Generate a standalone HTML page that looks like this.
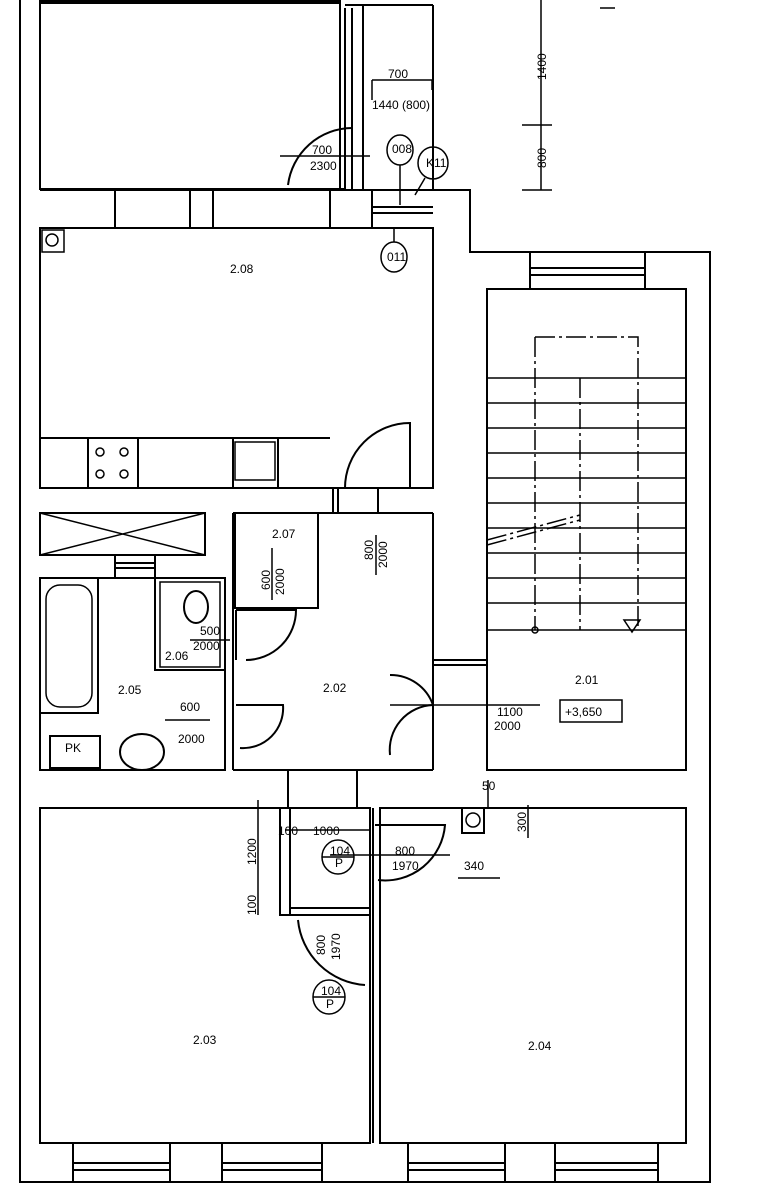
<!DOCTYPE html>
<html><head><meta charset="utf-8"><style>
html,body{margin:0;padding:0;background:#fff;width:767px;height:1200px;overflow:hidden}
svg{display:block}
text{font-family:"Liberation Sans",sans-serif;font-size:12px;fill:#000}
</style></head><body>
<svg width="767" height="1200" viewBox="0 0 767 1200" xmlns="http://www.w3.org/2000/svg">
<g stroke="#000" stroke-width="2" fill="none">
<!-- outer walls -->
<path d="M20 0 V1182 H710 V252 H470 V190 H433"/>
<!-- top room -->
<path d="M40 0 V189 H345 M40 2 H340" />
<line x1="40" y1="2" x2="340" y2="2" stroke-width="4"/>
<path d="M340 0 V189 M345 8 V189 M352 8 V189 M363 5 V189 M433 5 V189 M345 5 H433"/>
<!-- wall between -->
<path d="M40 190 H433 M40 228 H433 M115 190 V228 M190 190 V228 M213 190 V228 M330 190 V228"/>
<path d="M372 190 V228 M372 207 H433 M372 213 H433"/>
<!-- door top -->
<path d="M288 185 A 65 65 0 0 1 352 128"/>
<line x1="280" y1="156" x2="370" y2="156" stroke-width="1.5"/>
<!-- 2.08 -->
<rect x="40" y="228" width="393" height="260"/>
<path d="M40 438 H330 M88 438 V488 M138 438 V488 M233 438 V488 M278 438 V488"/>
<rect x="235" y="442" width="40" height="38" stroke-width="1.5"/>
<circle cx="100" cy="452" r="4" stroke-width="1.5"/><circle cx="124" cy="452" r="4" stroke-width="1.5"/>
<circle cx="100" cy="474" r="4" stroke-width="1.5"/><circle cx="124" cy="474" r="4" stroke-width="1.5"/>
<rect x="42" y="230" width="22" height="22" stroke-width="1.5"/><circle cx="52" cy="240" r="6" stroke-width="1.5"/>
<path d="M345 488 A 65 65 0 0 1 410 423 V488"/>
<!-- wall below 2.08 -->
<path d="M333 488 V513 M338 488 V513 M378 488 V513 M40 513 H40"/>
<!-- stair 2.01 -->
<rect x="487" y="289" width="199" height="481"/>
<path d="M530 253 V289 M645 253 V289 M530 268 H645 M530 275 H645"/>
<g stroke-width="1.5">
<path d="M487 378 H686 M487 403 H686 M487 428 H686 M487 453 H686 M487 478 H686 M487 503 H686 M487 528 H686 M487 553 H686 M487 578 H686 M487 603 H686 M487 630 H686"/>
<path d="M535 337 H638 V630 M535 337 V630 M580 378 V630 M487 545 L580 520 M487 540 L580 515" stroke-dasharray="20 4 3 4"/>
<path d="M624 620 L640 620 L632 632 Z"/>
<circle cx="535" cy="630" r="3"/>
</g>
<!-- wardrobe -->
<rect x="40" y="513" width="165" height="42"/>
<path d="M40 513 L205 555 M205 513 L40 555" stroke-width="1.5"/>
<path d="M115 555 V578 M155 555 V578 M115 563 H155 M115 568 H155"/>
<!-- 2.05 bathroom -->
<path d="M40 578 H225 V770 H40 Z"/>
<rect x="40" y="578" width="58" height="135"/>
<rect x="46" y="585" width="46" height="122" rx="14" stroke-width="1.5"/>
<rect x="50" y="736" width="50" height="32"/>
<ellipse cx="142" cy="752" rx="22" ry="18"/>
<!-- 2.06 -->
<rect x="155" y="578" width="70" height="92"/>
<rect x="160" y="582" width="60" height="85" stroke-width="1.5"/>
<ellipse cx="196" cy="607" rx="12" ry="16"/>
<!-- 2.07 -->
<rect x="235" y="513" width="83" height="95"/>
<path d="M233 513 V770 M318 513 V608 M433 513 V770 M233 513 H433 M233 770 H433"/>
<path d="M236 610 H296 A 50 50 0 0 1 246 660 M236 610 V660"/>
<path d="M236 705 H283 A 40 40 0 0 1 240 748"/>
<path d="M225 660 V705"/>
<!-- door 2.02-2.01 -->
<path d="M433 660 H487 M433 665 H487 M390 675 A 45 45 0 0 1 433 705 M390 755 A 45 45 0 0 1 433 705"/>
<line x1="390" y1="705" x2="540" y2="705" stroke-width="1.5"/>
<rect x="560" y="700" width="62" height="22" stroke-width="1.5"/>
<path d="M487 630 V770"/>
<path d="M487 770 H686"/>
<!-- corridor between -->
<path d="M288 770 V808 M357 770 V808"/>
<!-- lower rooms -->
<rect x="40" y="808" width="330" height="335"/>
<rect x="380" y="808" width="306" height="335"/>
<path d="M370 808 V1143 M373 808 V1143"/>
<rect x="280" y="808" width="10" height="107" stroke-width="2"/>
<path d="M290 915 H370 M290 908 H370"/>
<path d="M298 920 A 72 72 0 0 0 365 985"/>
<path d="M375 825 H445 A 60 60 0 0 1 378 880"/>
<line x1="330" y1="855" x2="450" y2="855" stroke-width="1.5"/>
<rect x="462" y="808" width="22" height="25"/>
<circle cx="473" cy="820" r="7" stroke-width="1.5"/>
<!-- bottom windows -->
<path d="M73 1143 V1182 M170 1143 V1182 M222 1143 V1182 M322 1143 V1182 M408 1143 V1182 M505 1143 V1182 M555 1143 V1182 M658 1143 V1182"/>
<path d="M73 1163 H170 M73 1170 H170 M222 1163 H322 M222 1170 H322 M408 1163 H505 M408 1170 H505 M555 1163 H658 M555 1170 H658"/>
<!-- dims -->
<g stroke-width="1.5">
<path d="M541 0 V190 M522 125 H552 M522 190 H552 M600 8 H615"/>
<path d="M372 80 V100 M372 80 H432 M432 80 V90"/>
<path d="M258 800 V915 M276 808 H370 M285 830 H370"/>
<path d="M488 780 V808 M528 805 V838 M458 878 H500"/>
<ellipse cx="400" cy="150" rx="13" ry="15"/><line x1="400" y1="165" x2="400" y2="205"/>
<ellipse cx="433" cy="163" rx="15" ry="16"/><line x1="425" y1="178" x2="415" y2="195"/>
<ellipse cx="394" cy="257" rx="13" ry="15"/><line x1="394" y1="228" x2="394" y2="242"/>
<ellipse cx="338" cy="857" rx="16" ry="17"/><line x1="322" y1="857" x2="354" y2="857"/>
<ellipse cx="329" cy="997" rx="16" ry="17"/><line x1="313" y1="997" x2="345" y2="997"/>
<line x1="272" y1="548" x2="272" y2="600"/><line x1="376" y1="535" x2="376" y2="575"/>
<line x1="165" y1="720" x2="210" y2="720"/><line x1="190" y1="640" x2="230" y2="640"/>
</g>
</g>
<g>
<text x="230" y="273" font-size="12">2.08</text>
<text x="272" y="538">2.07</text>
<text x="118" y="694">2.05</text>
<text x="165" y="660" font-size="11">2.06</text>
<text x="323" y="692">2.02</text>
<text x="575" y="684">2.01</text>
<text x="565" y="716">+3,650</text>
<text x="193" y="1044">2.03</text>
<text x="528" y="1050">2.04</text>
<text x="65" y="752">PK</text>
<text x="388" y="78">700</text>
<text x="372" y="109">1440 (800)</text>
<text x="312" y="154">700</text>
<text x="310" y="170">2300</text>
<text x="392" y="153" font-size="8">008</text>
<text x="426" y="167" font-size="8">K11</text>
<text x="387" y="261" font-size="8">011</text>
<text x="180" y="711">600</text><text x="178" y="743">2000</text>
<text x="200" y="635">500</text><text x="193" y="650">2000</text>
<text x="497" y="716">1100</text><text x="494" y="730">2000</text>
<text x="278" y="835">100</text><text x="313" y="835">1000</text>
<text x="395" y="855">800</text><text x="392" y="870">1970</text>
<text x="464" y="870">340</text>
<text x="482" y="790" font-size="11">50</text>
<text x="330" y="855" font-size="8">104</text><text x="335" y="867" font-size="8">P</text>
<text x="321" y="995" font-size="8">104</text><text x="326" y="1008" font-size="8">P</text>
<text transform="translate(546 80) rotate(-90)">1400</text>
<text transform="translate(546 168) rotate(-90)">800</text>
<text transform="translate(256 865) rotate(-90)">1200</text>
<text transform="translate(256 915) rotate(-90)">100</text>
<text transform="translate(526 832) rotate(-90)">300</text>
<text transform="translate(373 560) rotate(-90)">800</text>
<text transform="translate(387 568) rotate(-90)">2000</text>
<text transform="translate(270 590) rotate(-90)">600</text>
<text transform="translate(284 595) rotate(-90)">2000</text>
<text transform="translate(325 955) rotate(-90)">800</text>
<text transform="translate(340 960) rotate(-90)">1970</text>
</g>
</svg>
</body></html>
